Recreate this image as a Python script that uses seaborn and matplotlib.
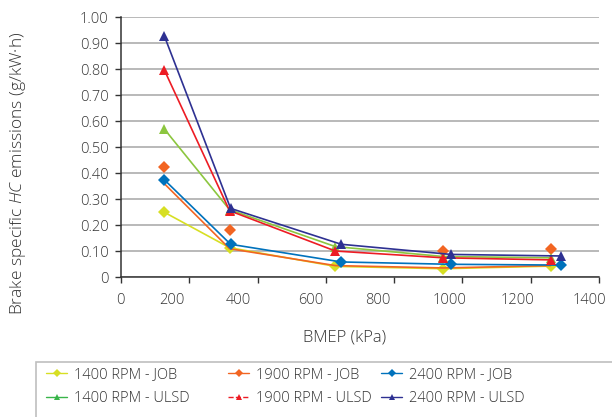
import pandas as pd
import seaborn as sns
import matplotlib.pyplot as plt
from matplotlib.lines import Line2D
from matplotlib.patches import Rectangle
from matplotlib.transforms import ScaledTranslation

# BMEP (kPa) positions per engine speed
bmep_1400 = [127, 318, 628, 944, 1258]
bmep_1900 = [127, 318, 628, 944, 1258]
bmep_2400 = [127, 321, 645, 966, 1290]

# brake specific HC emissions (g/kW·h)
hc_1400_job = [0.25, 0.114, 0.042, 0.033, 0.043]
hc_1400_ulsd = [0.57, 0.26, 0.118, 0.080, 0.075]
hc_1900_job_marks = [0.425, 0.183, None, 0.102, 0.108]
hc_1900_job_line = [0.36, 0.110, 0.045, 0.036, 0.045]
hc_1900_ulsd = [0.797, 0.256, 0.101, 0.075, 0.067]
hc_2400_job = [0.375, 0.127, 0.059, 0.050, 0.047]
hc_2400_ulsd = [0.928, 0.265, 0.127, 0.088, 0.082]

colors = {'1400 RPM - JOB': '#d7df23', '1400 RPM - ULSD': '#8cc63f',
          '1900 RPM - JOB': '#f26522', '1900 RPM - ULSD': '#ed1c24',
          '2400 RPM - JOB': '#0072bc', '2400 RPM - ULSD': '#2e3192'}
legend_green = '#39b54a'
txt = '#333333'

sns.set_style('white')
plt.rcParams['font.family'] = ['Open Sans', 'DejaVu Sans']
plt.rcParams['font.weight'] = 'light'
plt.rcParams['mathtext.fontset'] = 'custom'
plt.rcParams['mathtext.it'] = 'Open Sans:italic:light'
plt.rcParams['text.color'] = txt

fig = plt.figure(figsize=(6.12, 4.17), dpi=100)
ax = fig.add_axes([121 / 612, 1 - 277.3 / 417, 478 / 612, 260 / 417])

ax.yaxis.grid(True, color='#a6a6a6', linewidth=1.1)
ax.set_axisbelow(True)

def draw(x, y, color, marker, lw=1.2, ms=6, line=True, mk=True):
    d = pd.DataFrame({'x': x, 'y': y}).dropna()
    sns.lineplot(data=d, x='x', y='y', ax=ax, color=color,
                 linewidth=lw if line else 0,
                 marker=marker if mk else None, markersize=ms,
                 markeredgewidth=0, sort=False, estimator=None)

draw(bmep_1400, hc_1400_job, colors['1400 RPM - JOB'], 'D', ms=6)
draw(bmep_1900, hc_1900_job_line, colors['1900 RPM - JOB'], None, mk=False)
draw(bmep_1900, hc_1900_job_marks, colors['1900 RPM - JOB'], 'D', ms=6, line=False)
draw(bmep_2400, hc_2400_job, colors['2400 RPM - JOB'], 'D', ms=6)
draw(bmep_1400, hc_1400_ulsd, colors['1400 RPM - ULSD'], '^', ms=7)
draw(bmep_1900, hc_1900_ulsd, colors['1900 RPM - ULSD'], '^', ms=7)
draw(bmep_2400, hc_2400_ulsd, colors['2400 RPM - ULSD'], '^', ms=7)

ax.set_xlim(0, 1400)
ax.set_ylim(0, 1.0)
ax.set_xticks(range(0, 1401, 200))
ax.set_yticks([i / 10 for i in range(11)])
ax.set_yticklabels(['0'] + ['%.2f' % (i / 10) for i in range(1, 11)])
ax.tick_params(axis='both', direction='out', length=4, width=1, color=txt,
               labelsize=10.5, labelcolor=txt, bottom=True, left=True)
ax.tick_params(axis='x', pad=7)
ax.tick_params(axis='y', pad=5)
# the original's x labels sit a little left of their ticks
shifts = [-1, -17, -19, -15, -16, -13, -13, -10]
for lab, dx in zip(ax.get_xticklabels(), shifts):
    lab.set_transform(lab.get_transform() + ScaledTranslation(dx / 100, 0, fig.dpi_scale_trans))
for s in ['top', 'right']:
    ax.spines[s].set_visible(False)
for s in ['left', 'bottom']:
    ax.spines[s].set_color(txt)
    ax.spines[s].set_linewidth(1.1)

ax.set_xlabel('')
ax.set_ylabel('')
fig.text(345 / 612, 1 - 338 / 417, 'BMEP (kPa)', fontsize=12, color=txt,
         ha='center', va='center')
fig.text(18 / 612, 1 - 173 / 417,
         r'Brake specific $\mathit{HC}$ emissions (g/kW·h)', fontsize=12.5,
         color=txt, ha='center', va='center', rotation=90)

# legend box (runs past the right edge like the original)
fig.patches.append(Rectangle((36 / 612, 1 - 418 / 417), 600 / 612, 56 / 417,
                             transform=fig.transFigure, fill=False,
                             edgecolor='#bfbfbf', linewidth=1.2))

def h(color, marker, ls='-'):
    ms = 4 if marker == 'D' else 5
    return Line2D([], [], color=color, marker=marker, ms=ms, mew=0, ls=ls, lw=1)

columns = [
    (46, [h(colors['1400 RPM - JOB'], 'D'), h(legend_green, '^')],
     ['1400 RPM - JOB', '1400 RPM - ULSD']),
    (228, [h(colors['1900 RPM - JOB'], 'D'), h(colors['1900 RPM - ULSD'], '^', '--')],
     ['1900 RPM - JOB', '1900 RPM - ULSD']),
    (381, [h(colors['2400 RPM - JOB'], 'D'), h(colors['2400 RPM - ULSD'], '^')],
     ['2400 RPM - JOB', '2400 RPM - ULSD']),
]
for x0, hs, ls in columns:
    fig.legend(hs, ls, loc='upper left', bbox_to_anchor=(x0 / 612, 1 - 367 / 417),
               fontsize=10.5, frameon=False, handlelength=1.45, handletextpad=0.5,
               labelspacing=0.62, borderpad=0, borderaxespad=0)

fig.savefig('out.png', dpi=100)
